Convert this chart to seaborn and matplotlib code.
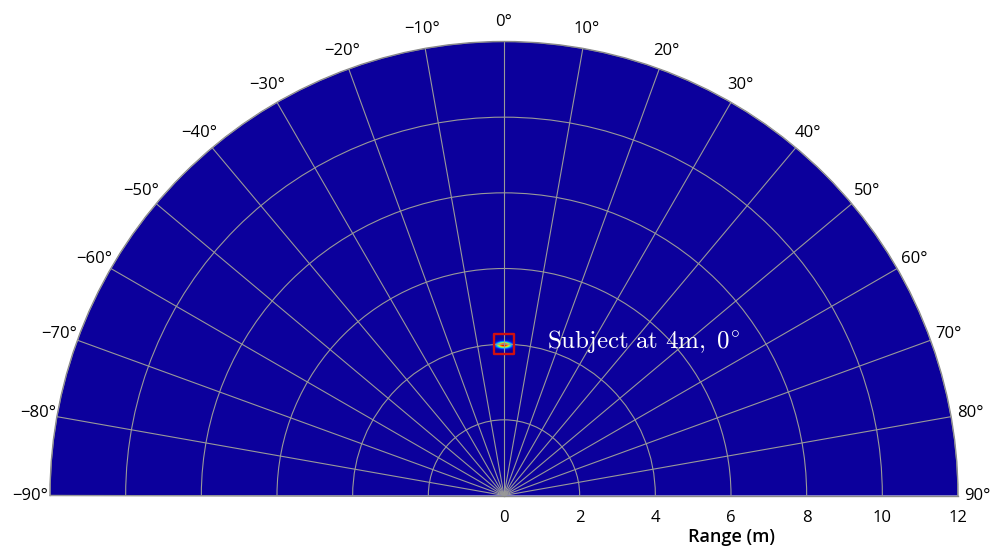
import numpy as np
import matplotlib
matplotlib.use("Agg")
import matplotlib.pyplot as plt
from matplotlib.colors import LinearSegmentedColormap
import seaborn as sns

# ---- data ----
subject_range_m = [4.0]
subject_angle_deg = [0.0]
subject_label = r"$\mathrm{Subject\ at\ 4m,\ 0^{\circ}}$"
range_ticks = [0, 2, 4, 6, 8, 10, 12]
angle_ticks = list(range(-90, 91, 10))
blob_sigma_angle_deg = 2.0   # angular spread of the return
blob_sigma_range_m = 0.06    # range spread of the return

sns.set_style("white")
plt.rcParams['font.family'] = ['Open Sans', 'DejaVu Sans']
plt.rcParams['mathtext.fontset'] = 'cm'
plt.rcParams['text.color'] = 'black'
plt.rcParams['xtick.color'] = 'black'
plt.rcParams['ytick.color'] = 'black'
plt.rcParams['axes.labelcolor'] = 'black'

bg = "#0c009c"
cmap = LinearSegmentedColormap.from_list(
    "radar", [bg, "#0020ff", "#00b8ff", "#60ffa0", "#ffee00", "#ff7000", "#e00000"])

W, H = 1000, 554
cx, cy, R = 504, 268.5, 454
fig = plt.figure(figsize=(W / 100, H / 100), dpi=100)
ax = fig.add_axes([(cx - R) / W, (H - cy - R) / H, 2 * R / W, 2 * R / H],
                  projection="polar")
ax.set_theta_zero_location("N")
ax.set_theta_direction(-1)
ax.set_thetamin(-90)
ax.set_thetamax(90)
ax.set_rlim(0, 12)
ax.set_facecolor(bg)

# intensity map around the subject
th = np.deg2rad(np.linspace(-12, 12, 241))
rr = np.linspace(3.5, 4.5, 201)
TH, RR = np.meshgrid(th, rr)
Z = np.zeros_like(TH)
for a, r in zip(subject_angle_deg, subject_range_m):
    Z += np.exp(-0.5 * ((np.rad2deg(TH) - a) / blob_sigma_angle_deg) ** 2
                - 0.5 * ((RR - r) / blob_sigma_range_m) ** 2)
ax.pcolormesh(TH, RR, Z, cmap=cmap, vmin=0, vmax=1, shading="gouraud", zorder=1)

# grid
ax.set_thetagrids(angle_ticks, [f"{a}°".replace("-", "\u2212") for a in angle_ticks],
                  fontsize=12)
ax.set_rgrids(range_ticks, [str(t) for t in range_ticks])
ax.yaxis.set_tick_params(labelleft=False, labelright=True, labelsize=12, pad=7)
ax.grid(True, color="#999999", linewidth=0.8, zorder=2)
ax.set_axisbelow(False)
for s in ax.spines.values():
    s.set_color("#888888")
    s.set_linewidth(1.0)

# subject marker
sns.scatterplot(x=np.deg2rad(subject_angle_deg), y=subject_range_m, ax=ax,
                marker="s", s=200, facecolor="none", edgecolor="#d01010",
                linewidth=1.7, zorder=5)
ax.annotate(subject_label,
            xy=(np.deg2rad(subject_angle_deg[0]), subject_range_m[0]),
            xytext=(31, 2), textcoords="offset points", va="center", ha="left",
            color="white", fontsize=18, zorder=6)

# radial axis title, centred under the radial tick labels
ax.annotate("Range (m)", xy=(np.deg2rad(90), range_ticks[-1] / 2),
            xytext=(0, -30), textcoords="offset points", ha="center", va="center",
            fontsize=13, fontweight="semibold", annotation_clip=False)
ax.set_xlabel("")
ax.set_ylabel("")

fig.savefig("out.png", dpi=100)
